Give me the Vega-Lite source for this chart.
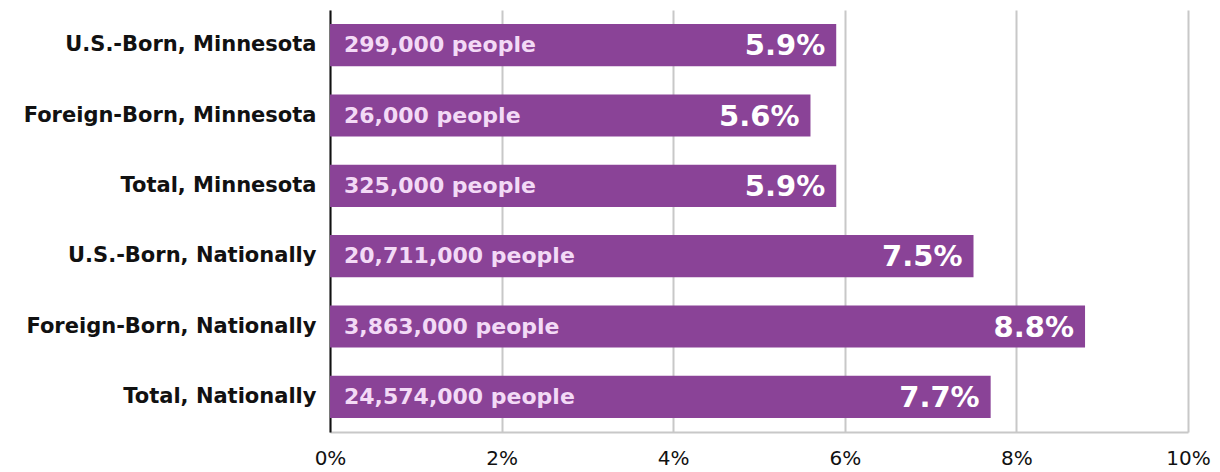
{
  "$schema": "https://vega.github.io/schema/vega-lite/v6.json",
  "width": 858,
  "height": 422,
  "autosize": {"type": "none"},
  "padding": {"left": 330, "top": 10, "right": 32, "bottom": 40},
  "background": "white",
  "config": {"view": {"stroke": null}, "font": "DejaVu Sans"},
  "data": {"values": [
    {"group": "U.S.-Born, Minnesota", "rate": 5.9, "people": "299,000 people", "label": "5.9%"},
    {"group": "Foreign-Born, Minnesota", "rate": 5.6, "people": "26,000 people", "label": "5.6%"},
    {"group": "Total, Minnesota", "rate": 5.9, "people": "325,000 people", "label": "5.9%"},
    {"group": "U.S.-Born, Nationally", "rate": 7.5, "people": "20,711,000 people", "label": "7.5%"},
    {"group": "Foreign-Born, Nationally", "rate": 8.8, "people": "3,863,000 people", "label": "8.8%"},
    {"group": "Total, Nationally", "rate": 7.7, "people": "24,574,000 people", "label": "7.7%"}
  ]},
  "encoding": {
    "y": {"field": "group", "type": "nominal", "sort": null,
      "scale": {"paddingInner": 0.4, "paddingOuter": 0.2},
      "axis": {"title": null, "ticks": false, "domainColor": "#111111", "domainWidth": 2, "labelLimit": 400,
        "labelFont": "DejaVu Sans", "labelFontWeight": "bold", "labelFontSize": 21, "labelColor": "#111111", "labelPadding": 14}}
  },
  "layer": [
    {
      "mark": {"type": "bar", "color": "#8A4397"},
      "encoding": {
        "x": {"field": "rate", "type": "quantitative", "scale": {"domain": [0, 10], "nice": false},
          "axis": {"title": null, "values": [0, 2, 4, 6, 8, 10], "labelExpr": "datum.value + '%'",
            "ticks": false, "domainColor": "#c8c8c8", "domainWidth": 2, "gridColor": "#c8c8c8", "gridWidth": 2,
            "labelFlush": false, "labelBound": false, "labelAlign": "center", "labelOverlap": false,
            "labelFont": "DejaVu Sans", "labelFontSize": 20, "labelColor": "#111111", "labelPadding": 16}}
      }
    },
    {
      "mark": {"type": "text", "align": "left", "baseline": "middle", "dx": 14, "fontSize": 22, "fontWeight": 600, "color": "#F3DAF6", "font": "DejaVu Sans"},
      "encoding": {"x": {"datum": 0, "type": "quantitative"}, "text": {"field": "people"}}
    },
    {
      "mark": {"type": "text", "align": "right", "baseline": "middle", "dx": -11, "dy": 1, "fontSize": 29, "fontWeight": "bold", "color": "white", "font": "DejaVu Sans"},
      "encoding": {"x": {"field": "rate", "type": "quantitative"}, "text": {"field": "label"}}
    }
  ]
}
